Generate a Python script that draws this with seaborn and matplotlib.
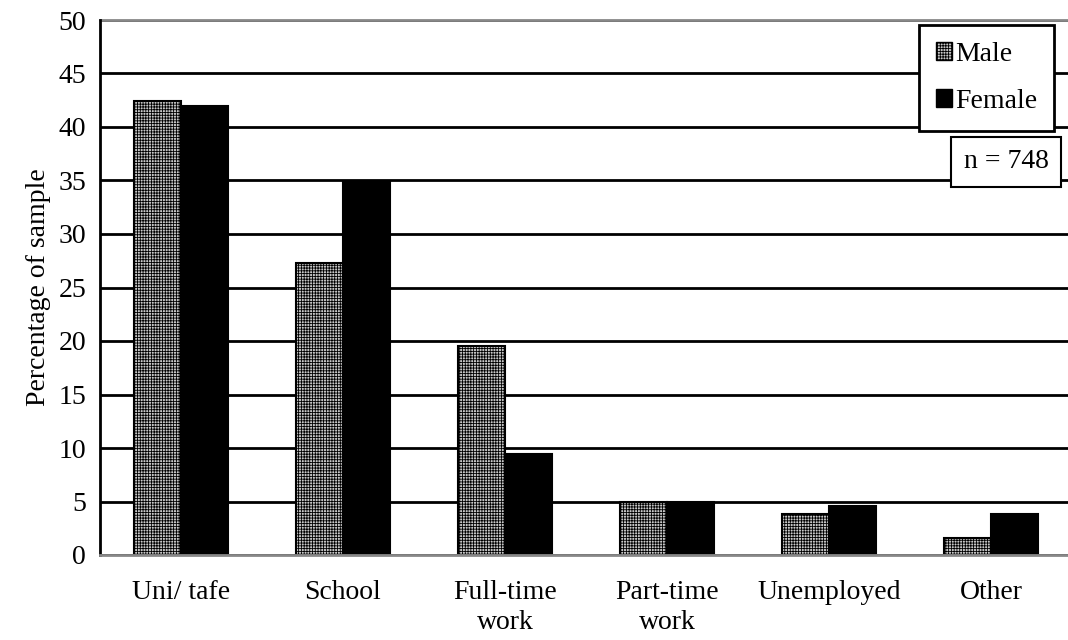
import numpy as np
import pandas as pd
import matplotlib
matplotlib.use('Agg')
import matplotlib.pyplot as plt
import seaborn as sns
from matplotlib.patches import Patch

# data
categories = ['Uni/ tafe', 'School', 'Full-time\nwork', 'Part-time\nwork', 'Unemployed', 'Other']
male = [42.4, 27.3, 19.5, 5.0, 3.8, 1.6]
female = [42.0, 34.9, 9.4, 5.0, 4.6, 3.8]
genders = ['Male', 'Female']
sample_label = 'n = 748'

df = pd.DataFrame({
    'category': categories * 2,
    'gender': ['Male'] * len(categories) + ['Female'] * len(categories),
    'pct': male + female,
})

sns.set_style('white')
plt.rcParams['font.family'] = ['Liberation Serif', 'DejaVu Serif']
plt.rcParams['text.color'] = 'black'
plt.rcParams['axes.labelcolor'] = 'black'
plt.rcParams['xtick.color'] = 'black'
plt.rcParams['ytick.color'] = 'black'
plt.rcParams['hatch.linewidth'] = 0.6

fig = plt.figure(figsize=(10.68, 6.4), dpi=100)
ax = fig.add_axes([100 / 1068, 85 / 640, 972 / 1068, 535 / 640])

ax.yaxis.grid(True, color='black', linewidth=2)
ax.set_axisbelow(True)

sns.barplot(data=df, x='category', y='pct', hue='gender', hue_order=genders,
            palette={'Male': '#c8c8c8', 'Female': 'black'},
            width=0.58, gap=0, saturation=1, legend=False, ax=ax)

n = len(categories)
for i, bar in enumerate(ax.patches[:2 * n]):
    bar.set_edgecolor('black')
    bar.set_linewidth(1.5)
    if i < n:
        bar.set_hatch('++++++')

ax.set_xlim(-0.5, n - 0.5)
ax.set_ylim(0, 50)
ax.set_yticks(np.arange(0, 51, 5))
ax.tick_params(axis='y', direction='out', length=7, width=2, labelsize=20, color='black', pad=3)
ax.tick_params(axis='x', length=0, labelsize=20, pad=18)
for lbl in ax.get_xticklabels():
    lbl.set_linespacing(1.25)
ax.set_xlabel('')
ax.set_ylabel('Percentage of sample', fontsize=20, labelpad=5)

for s in ['top', 'right']:
    ax.spines[s].set_visible(False)
ax.spines['left'].set_color('black')
ax.spines['left'].set_linewidth(2)
ax.spines['bottom'].set_color('#888888')
ax.spines['bottom'].set_linewidth(2)
ax.axhline(50, color='#888888', linewidth=2, clip_on=False)

handles = [Patch(facecolor='#c8c8c8', edgecolor='black', hatch='++++++', label='Male'),
           Patch(facecolor='black', edgecolor='black', label='Female')]
leg = fig.legend(handles=handles, loc='upper left', bbox_to_anchor=(919 / 1068, 1 - 25 / 640),
                 fontsize=20, frameon=True, fancybox=False, handlelength=0.6, handleheight=0.6,
                 handletextpad=0.1, labelspacing=0.8, borderpad=0.6, borderaxespad=0)
leg.get_frame().set_edgecolor('black')
leg.get_frame().set_linewidth(2)
leg.get_frame().set_alpha(1)

fig.text(1006 / 1068, 1 - 162 / 640, sample_label, fontsize=20, ha='center', va='center',
         bbox=dict(boxstyle='square,pad=0.45', facecolor='white', edgecolor='black', linewidth=1.5))

plt.savefig('out.png', dpi=100)
